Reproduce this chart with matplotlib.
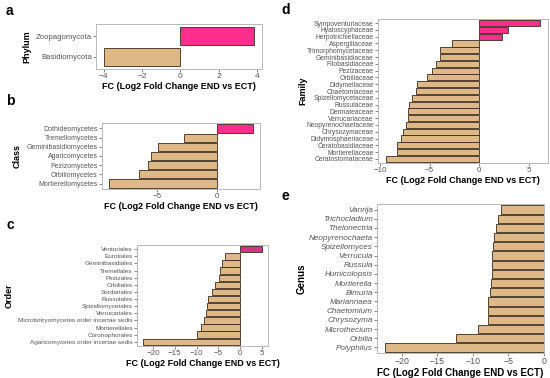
import matplotlib
matplotlib.use("Agg")
import matplotlib.pyplot as plt
import matplotlib.transforms as mtransforms

plt.rcParams['font.family'] = ['Liberation Sans', 'DejaVu Sans']

TAN = '#DEB887'
PINK = '#FF2D8C'
EDGE = '#3B2B1B'
GREY = '#555555'
XLAB = 'FC (Log2 Fold Change END vs ECT)'

# data, listed top to bottom as in the figure
phylum = ['Zoopagomycota', 'Basidiomycota']
phylum_fc = [3.85, -4.0]

classes = ['Dothideomycetes', 'Tremellomycetes', 'Geminibasidiomycetes', 'Agaricomycetes',
           'Pezizomycetes', 'Orbiliomycetes', 'Mortierellomycetes']
class_fc = [3.03, -2.8, -4.97, -5.5, -5.78, -6.56, -9.06]

orders = ['Venturiales', 'Eurotiales', 'Geminibasidiales', 'Tremellales', 'Pezizales',
          'Orbiliales', 'Sordariales', 'Russulales', 'Spizellomycetales', 'Verrucariales',
          'Microbotryomycetes order incertae sedis', 'Mortierellales', 'Coronophorales',
          'Agaricomycetes order incertae sedis']
order_fc = [5.0, -3.4, -4.2, -4.7, -4.95, -5.86, -6.47, -7.45, -7.6, -7.8, -8.3, -8.98, -9.9, -22.3]

families = ['Sympoventuriaceae', 'Hyaloscyphaceae', 'Herpotrichiellaceae', 'Aspergillaceae',
            'Trimorphomycetaceae', 'Geminibasidiaceae', 'Filobasidiaceae', 'Pezizaceae',
            'Orbiliaceae', 'Didymellaceae', 'Chaetomiaceae', 'Spizellomycetaceae', 'Russulaceae',
            'Dermateaceae', 'Verrucariaceae', 'Neopyrenochaetaceae', 'Chrysozymaceae',
            'Didymosphaeriaceae', 'Ceratobasidiaceae', 'Mortierellaceae', 'Ceratostomataceae']
family_fc = [6.12, 2.9, 2.28, -2.79, -3.94, -4.0, -4.35, -4.76, -5.27, -6.29, -6.39, -6.8,
             -7.07, -7.14, -7.2, -7.38, -7.65, -7.89, -8.25, -8.3, -9.42]

genera = ['Vanrija', 'Trichocladium', 'Thelonectria', 'Neopyrenochaeta', 'Spizellomyces',
          'Verrucula', 'Russula', 'Humicolopsis', 'Mortierella', 'Bimuria', 'Mariannaea',
          'Chaetomium', 'Chrysozyma', 'Microthecium', 'Orbilia', 'Polyphilus']
genus_fc = [-6.03, -6.5, -6.76, -7.1, -7.15, -7.26, -7.3, -7.35, -7.5, -7.55, -7.85, -7.9,
            -7.92, -9.3, -12.4, -22.4]

fig = plt.figure(figsize=(5.5, 3.78), dpi=100)
W, H = 550, 378


def panel(box, names, vals, ylabel, letter, letter_xy, ylab_x, fs, xticks,
          italic=False, pos_color=PINK, lab_fs=6.5):
    l, t, r, b = box
    ax = fig.add_axes([l / W, 1 - b / H, (r - l) / W, (b - t) / H])
    n = len(names)
    ypos = list(range(n))[::-1]
    colors = [pos_color if v > 0 else TAN for v in vals]
    ax.barh(ypos, vals, height=0.9, color=colors, edgecolor=EDGE, linewidth=0.6)
    ax.set_ylim(-0.6, n - 0.4)
    ax.margins(x=0.05)
    ax.set_yticks(ypos)
    ax.set_yticklabels(names, fontsize=fs, color=GREY,
                       fontstyle='italic' if italic else 'normal')
    ax.set_xticks(xticks)
    ax.set_xticklabels([('\u2212' + str(abs(x))) if x < 0 else str(x) for x in xticks],
                       fontsize=max(fs, 5.4) + 0.4, color=GREY)
    ax.tick_params(length=2, width=0.5, color=GREY, pad=1)
    for s in ax.spines.values():
        s.set_color('#B8B8B8')
        s.set_linewidth(0.7)
    ax.set_xlabel(XLAB, fontsize=lab_fs, fontweight='bold', labelpad=1)
    ax.set_ylabel(ylabel, fontsize=lab_fs, fontweight='bold')
    tr = mtransforms.blended_transform_factory(fig.transFigure, ax.transAxes)
    ax.yaxis.set_label_coords(ylab_x / W, 0.5, transform=tr)
    fig.text(letter_xy[0] / W, 1 - letter_xy[1] / H, letter, fontsize=10,
             fontweight='bold', ha='left', va='center')
    return ax


panel((96, 24, 262, 69), phylum, phylum_fc, 'Phylum', 'a', (6, 11), 31, 5.6,
      [-4, -2, 0, 2, 4])
panel((102, 123, 260, 189), classes, class_fc, 'Class', 'b', (6, 101), 22, 5.0,
      [-5, 0])
panel((137, 245, 268, 346), orders, order_fc, 'Order', 'c', (6, 225), 14, 4.6,
      [-20, -15, -10, -5, 0, 5], pos_color='#D2348A')
panel((378, 19, 548, 163), families, family_fc, 'Family', 'd', (281, 10), 307, 4.9,
      [-10, -5, 0, 5])
panel((377, 204, 544, 353), genera, genus_fc, 'Genus', 'e', (281, 196), 307, 5.9,
      [-20, -15, -10, -5, 0], italic=True, lab_fs=7)

fig.savefig('out.png', dpi=100)
